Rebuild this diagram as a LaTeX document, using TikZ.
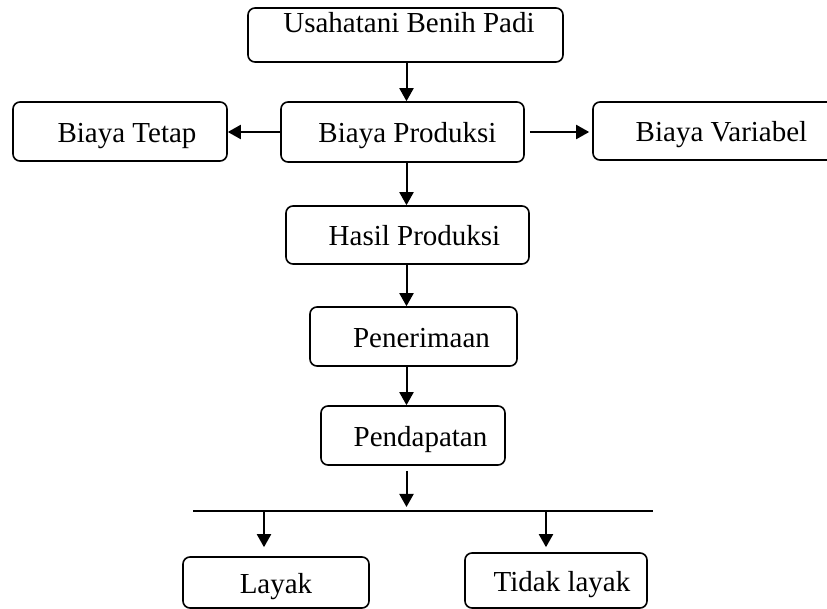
\documentclass[tikz,border=0pt]{standalone}
\usepackage{fontspec}
\setmainfont{Liberation Serif}
\usetikzlibrary{arrows.meta,positioning}
\tikzstyle{stage} = [rectangle, rounded corners=3.5pt, draw=black, line width=0.8pt, inner sep=2pt, text height=14pt, text depth=3pt, font=\fontsize{14.5}{17}\selectfont]
\tikzstyle{arrow} = [line width=1pt, -{Triangle[length=6.5pt, width=7pt]}]

\begin{document}
\begin{tikzpicture}[x=0.5pt, y=-0.5pt]
\useasboundingbox (0,0) rectangle (827,609);
\clip (0,0) rectangle (827,609);

\node (usaha) [stage, minimum width=157.5pt, minimum height=27pt, text height=10pt, text depth=12pt] at (405.5,35) {\hspace{3.5pt}Usahatani Benih Padi};
\node (produksi) [stage, minimum width=121.5pt, minimum height=30pt] at (402.5,132) {\hspace{5pt}Biaya Produksi};
\node (tetap) [stage, minimum width=107pt, minimum height=29.5pt] at (120,131.5) {\hspace{7pt}Biaya Tetap};
\node (variabel) [stage, minimum width=121.5pt, minimum height=29pt] at (714.5,131) {\hspace{7pt}Biaya Variabel};
\node (hasil) [stage, minimum width=121.5pt, minimum height=29pt] at (407.5,235) {\hspace{7pt}Hasil Produksi};
\node (terima) [stage, minimum width=103.5pt, minimum height=29.5pt] at (413.5,336.5) {\hspace{8pt}Penerimaan};
\node (dapat) [stage, minimum width=92pt, minimum height=29.5pt] at (413,435.5) {\hspace{7.5pt}Pendapatan};
\node (layak) [stage, minimum width=93pt, minimum height=25.5pt] at (276,582.5) {Layak\hspace{3.5pt}};
\node (tidak) [stage, minimum width=91pt, minimum height=27.5pt] at (556,580.5) {\hspace{6pt}Tidak layak};

% main flow
\coordinate (spine) at (406.5,0);
\draw[arrow] (usaha.south -| spine) -- (produksi.north -| spine);
\draw[arrow] (produksi.west) -- (produksi.west -| tetap.east);
\draw[arrow, shorten <=2.5pt, shorten >=1.5pt] (produksi.east) -- (produksi.east -| variabel.west);
\draw[arrow] (produksi.south -| spine) -- (hasil.north -| spine);
\draw[arrow] (hasil.south -| spine) -- (terima.north -| spine);
\draw[arrow] (terima.south -| spine) -- (dapat.north -| spine);

% split into the two outcomes
\coordinate (splitL) at (193,511);
\coordinate (splitR) at (653,511);
\coordinate (toLayak) at (264,511);
\coordinate (toTidak) at (546,511);
\draw[line width=1pt] (splitL) -- (splitR);
\draw[arrow, shorten <=2.5pt, shorten >=2pt] (dapat.south -| spine) -- (splitL -| spine);
\draw[arrow, shorten >=4.5pt] (toLayak) -- (toLayak |- layak.north);
\draw[arrow, shorten >=2.5pt] (toTidak) -- (toTidak |- tidak.north);
\end{tikzpicture}
\end{document}
